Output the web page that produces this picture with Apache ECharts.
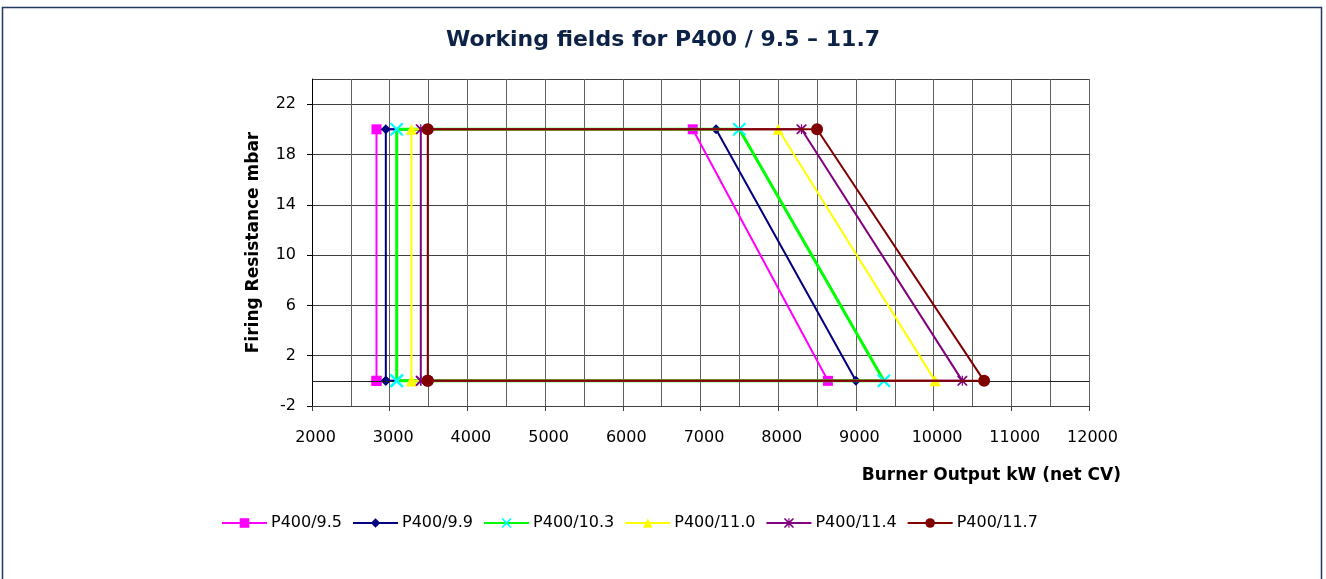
<!DOCTYPE html>
<html>
<head>
<meta charset="utf-8">
<script src="https://cdn.jsdelivr.net/npm/echarts@6/dist/echarts.min.js"></script>
<style>
html,body{margin:0;padding:0;background:#fff;}
#chart{width:1326px;height:579px;}
</style>
</head>
<body>
<div id="chart"></div>
<script>
// ---- data ----
const seriesNames = ['P400/9.5', 'P400/9.9', 'P400/10.3', 'P400/11.0', 'P400/11.4', 'P400/11.7'];
const minOutput = [2830, 2950, 3090, 3280, 3400, 3490];        // left edge (kW)
const maxOutputAtTop = [6900, 7200, 7500, 8000, 8300, 8500];   // at 20 mbar
const maxOutputAtBottom = [8640, 9000, 9360, 10020, 10370, 10650]; // at 0 mbar
const resistanceTop = 20;
const resistanceBottom = 0;
const xTicks = [2000, 3000, 4000, 5000, 6000, 7000, 8000, 9000, 10000, 11000, 12000];
const yTicks = [-2, 2, 6, 10, 14, 18, 22];

// ---- styles ----
const FONT = '"DejaVu Sans", Verdana, sans-serif';
const lineColors = ['#FF00FF', '#000080', '#00FF00', '#FFFF00', '#800080', '#800000'];
const markerColors = ['#FF00FF', '#000080', '#00FFFF', '#FFFF00', '#800080', '#800000'];
const lineWidths = [2, 2, 3, 2, 2, 2];
const crossPath = 'path://M0,0 L1.2,0 L5,3.8 L8.8,0 L10,0 L10,1.2 L6.2,5 L10,8.8 L10,10 L8.8,10 L5,6.2 L1.2,10 L0,10 L0,8.8 L3.8,5 L0,1.2 Z';
const starPath = 'path://M0,0 L1.2,0 L5,3.8 L8.8,0 L10,0 L10,1.2 L6.2,5 L10,8.8 L10,10 L8.8,10 L5,6.2 L1.2,10 L0,10 L0,8.8 L3.8,5 L0,1.2 Z M4.4,0 L5.6,0 L5.6,10 L4.4,10 Z';
const symbols = ['rect', 'diamond', crossPath, 'triangle', starPath, 'circle'];
const symbolSizes = [10, 10, 13, 11, 10, 12];

const series = seriesNames.map((name, i) => ({
  name: name,
  type: 'line',
  data: [
    [minOutput[i], resistanceBottom],
    [minOutput[i], resistanceTop],
    [maxOutputAtTop[i], resistanceTop],
    [maxOutputAtBottom[i], resistanceBottom],
    [minOutput[i], resistanceBottom]
  ],
  symbol: symbols[i],
  symbolSize: symbolSizes[i],
  showAllSymbol: true,
  lineStyle: { color: lineColors[i], width: lineWidths[i] },
  itemStyle: { color: markerColors[i], borderWidth: 0 },
  emphasis: { disabled: true },
  animation: false,
  z: 3 + i
}));

// zero line (the horizontal axis crosses at 0)
series.push({
  name: '_zero',
  type: 'line',
  data: [],
  silent: true,
  markLine: {
    silent: true,
    symbol: 'none',
    label: { show: false },
    lineStyle: { color: '#202020', width: 1, type: 'solid' },
    data: [{ yAxis: 0 }],
    animation: false
  },
  z: 2
});

const chart = echarts.init(document.getElementById('chart'), null, { renderer: 'canvas' });
chart.setOption({
  backgroundColor: '#ffffff',
  animation: false,
  title: {
    text: 'Working fields for P400 / 9.5 \u2013 11.7',
    left: 'center',
    top: 24,
    textStyle: { fontFamily: FONT, fontSize: 22, fontWeight: 'bold', color: '#0C2246' }
  },
  legend: {
    data: seriesNames,
    bottom: 43,
    left: 216,
    itemWidth: 45,
    itemHeight: 12,
    itemGap: 10,
    textStyle: { fontFamily: FONT, fontSize: 16, color: '#000', padding: [0, 0, 0, -1] }
  },
  grid: { left: 312, top: 79, width: 777, height: 327, containLabel: false },
  xAxis: {
    type: 'value',
    min: xTicks[0],
    max: xTicks[xTicks.length - 1],
    interval: 1000,
    axisLine: { show: true, onZero: false, lineStyle: { color: '#404040', width: 1 } },
    axisTick: { show: true, length: 5, lineStyle: { color: '#404040' } },
    minorTick: { show: false, splitNumber: 2 },
    axisLabel: { margin: 24, fontFamily: FONT, fontSize: 16, color: '#000', padding: [0, 0, 0, 7], formatter: v => String(v) },
    splitLine: { show: true, lineStyle: { color: '#606060', width: 1 } },
    minorSplitLine: { show: true, lineStyle: { color: '#606060', width: 1 } }
  },
  yAxis: {
    type: 'value',
    min: yTicks[0],
    max: 24,
    interval: 4,
    name: 'Firing Resistance mbar',
    nameLocation: 'middle',
    nameGap: 50,
    nameTextStyle: { fontFamily: FONT, fontSize: 17, fontWeight: 'bold', color: '#000' },
    axisLine: { show: true, lineStyle: { color: '#000', width: 1 } },
    axisTick: { show: true, length: 5, lineStyle: { color: '#000' } },
    axisLabel: {
      margin: 16,
      fontFamily: FONT, fontSize: 16, color: '#000',
      showMaxLabel: false,
      formatter: v => (yTicks.indexOf(v) >= 0 ? String(v) : '')
    },
    splitLine: { show: true, lineStyle: { color: '#404040', width: 1 } }
  },
  graphic: [
    {
      type: 'text',
      right: 1326 - 1121,
      top: 467,
      style: {
        text: 'Burner Output kW (net CV)',
        font: 'bold 17px "DejaVu Sans", Verdana, sans-serif',
        fill: '#000'
      }
    },
    {
      type: 'rect',
      shape: { x: 2.5, y: 7.5, width: 1319, height: 600 },
      style: { fill: 'none', stroke: '#1F3864', lineWidth: 1.5 },
      silent: true,
      z: 100
    }
  ],
  series: series
});
</script>
</body>
</html>
